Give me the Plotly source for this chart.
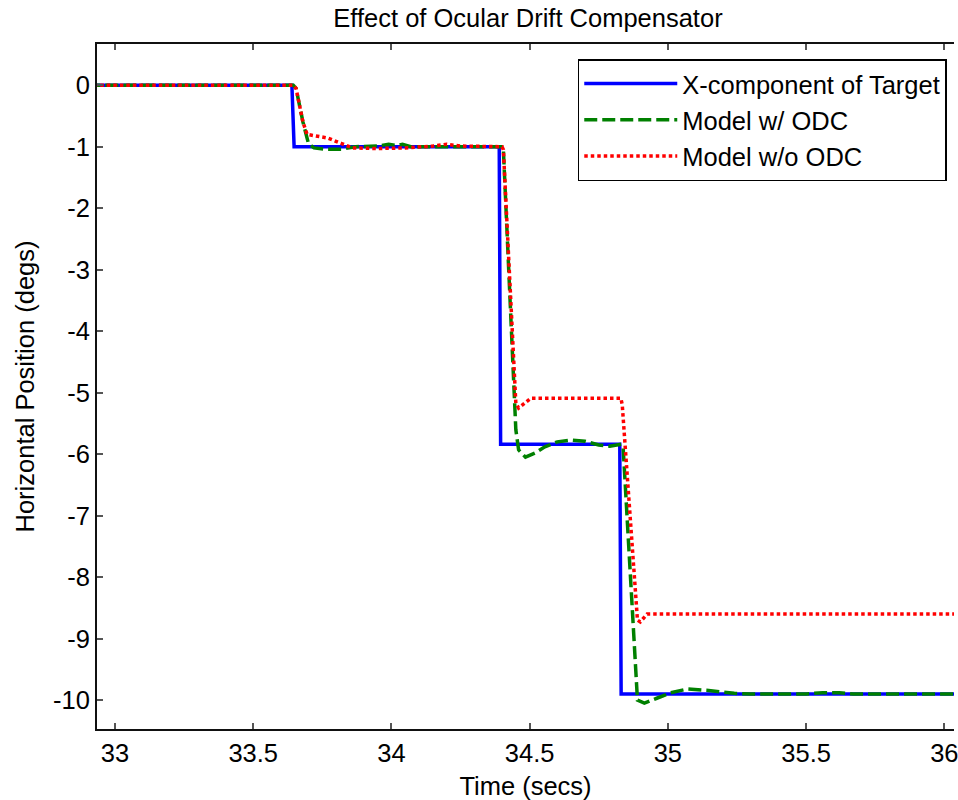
import plotly.graph_objects as go

# Time (secs) and horizontal position (degs)
target_t = [32.90, 33.640, 33.648, 34.390, 34.395, 34.826, 34.831, 36.10]
target_y = [0, 0, -1, -1, -5.84, -5.84, -9.90, -9.90]

odc_t = [32.90, 33.645, 33.655, 33.68, 33.70, 33.72, 33.76, 33.82, 33.87, 33.95, 33.99, 34.02,
         34.04, 34.07, 34.400, 34.405, 34.45, 34.46, 34.485, 34.52, 34.555, 34.60, 34.65, 34.70,
         34.75, 34.79, 34.832, 34.838, 34.89, 34.915, 34.96, 35.01, 35.07, 35.14, 35.24, 35.30,
         35.50, 35.56, 35.62, 35.67, 36.10]
odc_y = [0, 0, -0.05, -0.60, -0.95, -1.02, -1.04, -1.04, -1.00, -0.99, -0.96, -0.98,
         -0.96, -1.00, -1.00, -1.05, -5.60, -5.93, -6.05, -5.98, -5.88, -5.80, -5.77, -5.79,
         -5.85, -5.87, -5.84, -5.88, -10.00, -10.05, -9.97, -9.88, -9.82, -9.84, -9.89, -9.90,
         -9.90, -9.88, -9.88, -9.90, -9.90]

noodc_t = [32.90, 33.645, 33.655, 33.68, 33.695, 33.72, 33.77, 33.82, 33.86, 33.95, 34.05,
           34.15, 34.20, 34.25, 34.400, 34.405, 34.45, 34.46, 34.505, 34.830, 34.835, 34.89,
           34.90, 34.925, 36.10]
noodc_y = [0, 0, -0.05, -0.60, -0.80, -0.82, -0.86, -0.95, -1.02, -1.03, -1.02,
           -0.99, -0.96, -0.99, -1.00, -1.05, -5.17, -5.25, -5.09, -5.09, -5.20, -8.70,
           -8.73, -8.60, -8.60]

x_ticks = [33, 33.5, 34, 34.5, 35, 35.5, 36]
x_tick_text = ["33", "33.5", "34", "34.5", "35", "35.5", "36"]
y_ticks = [0, -1, -2, -3, -4, -5, -6, -7, -8, -9, -10]
y_tick_text = ["0", "-1", "-2", "-3", "-4", "-5", "-6", "-7", "-8", "-9", "-10"]

FONT = "Liberation Sans, Arial, sans-serif"
FS = 25.5

fig = go.Figure()
fig.add_trace(go.Scatter(x=target_t, y=target_y, mode="lines", name="X-component of Target",
                         line=dict(color="#0000FF", width=3.5)))
fig.add_trace(go.Scatter(x=odc_t, y=odc_y, mode="lines", name="Model w/ ODC",
                         line=dict(color="#008000", width=3.5, dash="13px,5px")))
fig.add_trace(go.Scatter(x=noodc_t, y=noodc_y, mode="lines", name="Model w/o ODC",
                         line=dict(color="#FF0000", width=3.5, dash="3.5px,3px")))

fig.update_layout(
    width=958, height=800,
    margin=dict(l=97, r=0, t=44, b=71),
    paper_bgcolor="white", plot_bgcolor="white",
    font=dict(family=FONT, size=FS, color="black"),
    title=dict(text="Effect of Ocular Drift Compensator", x=(97 + 959) / 2 / 958, xanchor="center",
               y=1 - 18 / 800, yanchor="middle", yref="container",
               font=dict(family=FONT, size=FS, color="black")),
    showlegend=True,
    legend=dict(x=(580 - 97) / 861, y=(729 - 59) / 685, xanchor="left", yanchor="top",
                bgcolor="white", bordercolor="black", borderwidth=1.5,
                font=dict(family=FONT, size=FS, color="black"), itemwidth=93,
                tracegroupgap=0),
)
fig.update_xaxes(
    range=[32.935, 36.035], tickvals=x_ticks, ticktext=x_tick_text,
    ticks="inside", ticklen=6, tickcolor="#555555", tickwidth=1.5,
    showline=True, linecolor="#111111", linewidth=2, mirror="ticks",
    showgrid=False, zeroline=False, ticklabeloverflow="allow",
    title=dict(text="Time (secs)", standoff=12, font=dict(family=FONT, size=FS)),
)
fig.update_yaxes(
    range=[-10.47, 0.67], tickvals=y_ticks, ticktext=y_tick_text,
    ticks="inside", ticklen=6, tickcolor="#555555", tickwidth=1.5,
    showline=True, linecolor="#111111", linewidth=2, mirror=False,
    showgrid=False, zeroline=False,
    title=dict(text="Horizontal Position (degs)", standoff=11, font=dict(family=FONT, size=FS)),
)

fig.write_html("out.html")
